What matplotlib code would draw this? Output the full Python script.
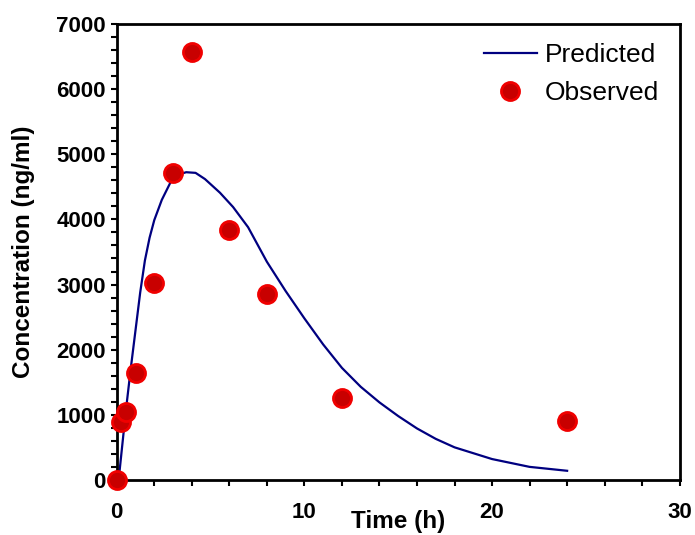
import matplotlib
matplotlib.use('Agg')
import matplotlib.pyplot as plt
from matplotlib.ticker import MultipleLocator

plt.rcParams['font.family'] = ['Liberation Sans', 'DejaVu Sans']

# Predicted profile
t_pred = [0.1, 0.3, 0.5, 0.75, 1.0, 1.25, 1.5, 1.75, 2.0, 2.4, 2.9, 3.3, 3.7,
          4.2, 4.7, 5.5, 6.2, 7.0, 8.0, 9.0, 10.0, 11.0, 12.0, 13.0, 14.0,
          15.0, 16.0, 17.0, 18.0, 20.0, 22.0, 24.0]
c_pred = [0, 550, 1100, 1720, 2300, 2880, 3370, 3720, 3990, 4300, 4590, 4690,
          4725, 4715, 4620, 4410, 4190, 3880, 3350, 2900, 2480, 2080, 1720,
          1430, 1190, 980, 790, 630, 500, 320, 200, 140]

# Observed concentrations
t_obs = [0, 0.25, 0.5, 1, 2, 3, 4, 6, 8, 12, 24]
c_obs = [0, 895, 1050, 1640, 3020, 4720, 6570, 3830, 2850, 1255, 910]

fig = plt.figure(figsize=(6.95, 5.35), dpi=100)
ax = fig.add_axes([0.168, 0.103, 0.810, 0.852])

ax.plot(t_pred, c_pred, color='#000080', lw=1.6, label='Predicted', zorder=2)
ax.plot(t_obs, c_obs, 'o', ms=13, mfc='#C80000', mec='#F00000', mew=2,
        label='Observed', zorder=3, clip_on=False)

ax.set_xlim(0, 30)
ax.set_ylim(0, 7000)
ax.xaxis.set_major_locator(MultipleLocator(10))
ax.xaxis.set_minor_locator(MultipleLocator(2))
ax.yaxis.set_major_locator(MultipleLocator(1000))
ax.yaxis.set_minor_locator(MultipleLocator(200))
ax.tick_params(which='both', direction='out', width=1.5, length=4)
ax.tick_params(axis='x', which='major', pad=12)
ax.tick_params(axis='y', which='major', pad=4)
for lab in ax.get_xticklabels() + ax.get_yticklabels():
    lab.set_fontsize(16)
    lab.set_fontweight('bold')

for sp in ax.spines.values():
    sp.set_linewidth(2)

ax.set_xlabel('Time (h)', fontsize=17.5, fontweight='bold', va='top')
ax.set_ylabel('Concentration (ng/ml)', fontsize=17.5, fontweight='bold')
ax.xaxis.set_label_coords(0.5, -0.066)
ax.yaxis.set_label_coords(-0.145, 0.5)

leg = ax.legend(loc='upper right', bbox_to_anchor=(0.963, 0.959),
                frameon=False, fontsize=19, handlelength=2.0,
                handletextpad=0.3, borderaxespad=0, borderpad=0,
                labelspacing=0.53)

fig.savefig('out.png', dpi=100)
